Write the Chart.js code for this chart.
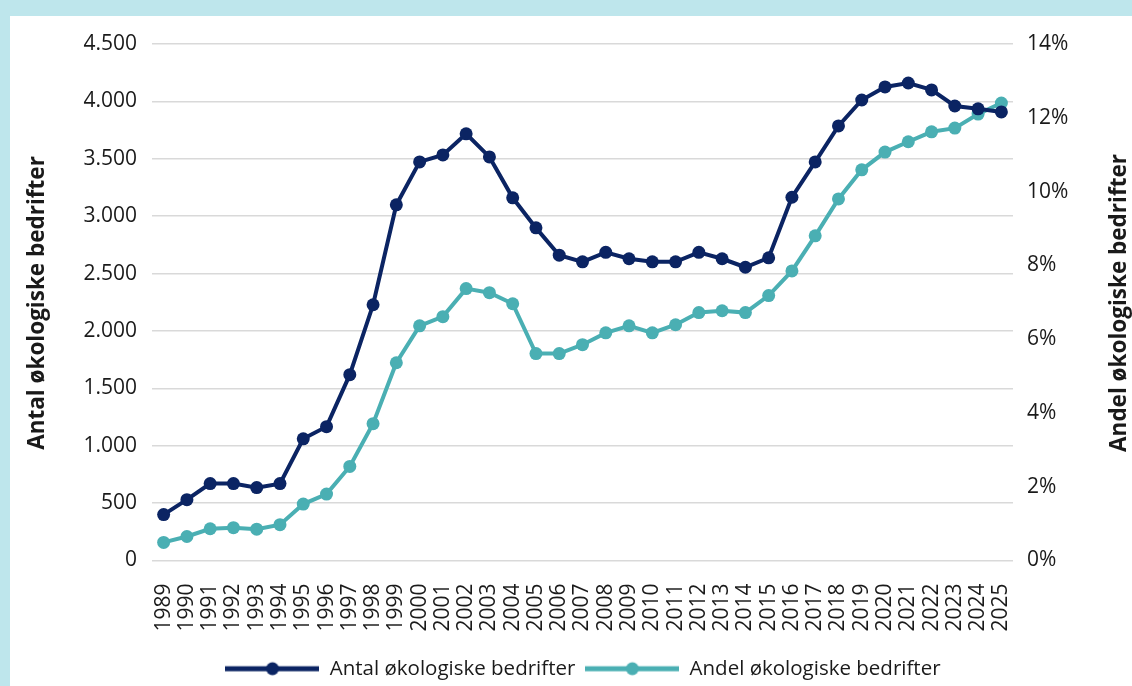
<!DOCTYPE html>
<html>
<head>
<meta charset="utf-8">
<script src="https://cdn.jsdelivr.net/npm/chart.js@4/dist/chart.umd.min.js"></script>
<style>
  html, body { margin: 0; padding: 0; background: #bee6ec; overflow: hidden; }
  #wrap { position: absolute; left: 10px; top: 16px; width: 1122px; height: 670px; background: #ffffff; }
  canvas { display: block; }
</style>
</head>
<body>
<div id="wrap"><canvas id="c" width="1122" height="670"></canvas></div>
<script>
const years = ["1989","1990","1991","1992","1993","1994","1995","1996","1997","1998","1999","2000","2001","2002","2003","2004","2005","2006","2007","2008","2009","2010","2011","2012","2013","2014","2015","2016","2017","2018","2019","2020","2021","2022","2023","2024","2025"];
const antal = [400, 530, 670, 670, 635, 670, 1060, 1166, 1619, 2228, 3099, 3473, 3534, 3717, 3516, 3160, 2898, 2660, 2602, 2685, 2629, 2602, 2602, 2685, 2629, 2555, 2637, 3165, 3473, 3786, 4012, 4126, 4160, 4100, 3960, 3935, 3908];
const andel = [0.49, 0.65, 0.86, 0.89, 0.85, 0.97, 1.53, 1.80, 2.55, 3.71, 5.36, 6.36, 6.61, 7.37, 7.26, 6.96, 5.61, 5.61, 5.85, 6.17, 6.36, 6.17, 6.39, 6.72, 6.77, 6.72, 7.18, 7.85, 8.80, 9.80, 10.59, 11.07, 11.35, 11.62, 11.72, 12.10, 12.40];
const leftTitle = "Antal økologiske bedrifter";
const rightTitle = "Andel økologiske bedrifter";

const DARK = "#0b2463";
const TEAL = "#4aafb3";
const FONT = "'Open Sans', 'Noto Sans', sans-serif";

function legendIcon(color) {
  const c = document.createElement("canvas");
  c.width = 94; c.height = 16;
  const g = c.getContext("2d");
  g.strokeStyle = color; g.lineWidth = 5;
  g.beginPath(); g.moveTo(0, 8); g.lineTo(94, 8); g.stroke();
  g.fillStyle = color;
  g.beginPath(); g.arc(47, 8, 6.5, 0, Math.PI * 2); g.fill();
  return c;
}

function fmtThousands(v) {
  return String(Math.round(v)).replace(/\B(?=(\d{3})+(?!\d))/g, ".");
}

const titlesPlugin = {
  id: "sideTitles",
  afterDraw(chart) {
    const ctx = chart.ctx;
    ctx.save();
    ctx.fillStyle = "#1a1a1a";
    ctx.font = "bold 22.5px " + FONT;
    ctx.textAlign = "center";
    ctx.textBaseline = "middle";
    [[28, leftTitle], [1110, rightTitle]].forEach(([x, t]) => {
      ctx.save();
      ctx.translate(x, 287);
      ctx.rotate(-Math.PI / 2);
      ctx.fillText(t, 0, 0);
      ctx.restore();
    });
    ctx.restore();
  }
};

new Chart(document.getElementById("c"), {
  type: "line",
  data: {
    labels: years,
    datasets: [
      {
        label: leftTitle, data: antal, yAxisID: "y",
        borderColor: DARK, backgroundColor: DARK, borderWidth: 4,
        pointRadius: 6.5, pointHoverRadius: 6.5, pointBackgroundColor: DARK, pointBorderWidth: 0,
        tension: 0
      },
      {
        label: rightTitle, data: andel, yAxisID: "y1",
        borderColor: TEAL, backgroundColor: TEAL, borderWidth: 4,
        pointRadius: 6.5, pointHoverRadius: 6.5, pointBackgroundColor: TEAL, pointBorderWidth: 0,
        tension: 0
      }
    ]
  },
  options: {
    responsive: false,
    animation: false,
    layout: { padding: { top: 28, left: 24, right: 0, bottom: -3 } },
    plugins: {
      tooltip: { enabled: false },
      legend: {
        position: "bottom",
        labels: {
          color: "#1a1a1a",
          font: { family: FONT, size: 20.5 },
          usePointStyle: true,
          pointStyleWidth: 94,
          padding: 10,
          generateLabels(chart) {
            return chart.data.datasets.map((ds, i) => ({
              text: ds.label,
              fillStyle: ds.borderColor,
              strokeStyle: ds.borderColor,
              lineWidth: 0,
              pointStyle: legendIcon(ds.borderColor),
              hidden: false,
              datasetIndex: i,
              fontColor: "#1a1a1a"
            }));
          }
        }
      }
    },
    scales: {
      x: {
        offset: true,
        grid: { display: false, drawTicks: false },
        border: { display: false },
        ticks: {
          color: "#1a1a1a", font: { family: FONT, size: 21 },
          maxRotation: 90, minRotation: 90, autoSkip: false, padding: 23
        },
        afterFit(s) { s.height = 88; }
      },
      y: {
        position: "left", min: 0, max: 4500,
        grid: { color: "#d9d9d9", lineWidth: 1.5, drawTicks: false },
        border: { display: false },
        ticks: {
          stepSize: 500, color: "#1a1a1a", font: { family: FONT, size: 21 }, padding: 15,
          callback: v => fmtThousands(v)
        },
        afterFit(s) { s.width = 118; }
      },
      y1: {
        position: "right", min: 0, max: 14,
        grid: { display: false, drawTicks: false },
        border: { display: false },
        ticks: {
          stepSize: 2, color: "#1a1a1a", font: { family: FONT, size: 21 }, padding: 14,
          callback: v => v + "%"
        },
        afterFit(s) { s.width = 119; }
      }
    }
  },
  plugins: [titlesPlugin]
});
</script>
</body>
</html>
